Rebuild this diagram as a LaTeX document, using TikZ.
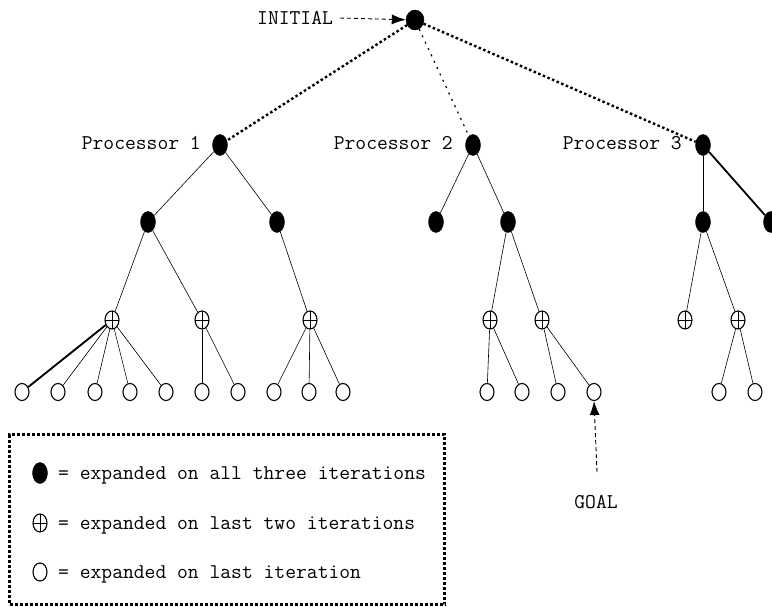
\documentclass[tikz,border=0pt]{standalone}
\usepackage{fontspec}
\usetikzlibrary{shapes.geometric,arrows.meta}
\begin{document}
\begin{tikzpicture}[x=1pt,y=-1pt,
  full/.style={ellipse, fill=black, draw=black, minimum width=15pt, minimum height=21pt, inner sep=0pt},
  half/.style={ellipse, draw, line width=1.1pt, minimum width=14pt, minimum height=18pt, inner sep=0pt,
    path picture={\draw[line width=0.9pt]
      (path picture bounding box.north) -- (path picture bounding box.south)
      (path picture bounding box.west) -- (path picture bounding box.east);}},
  leaf/.style={ellipse, draw, line width=1.1pt, minimum width=14pt, minimum height=17pt, inner sep=0pt},
  lbl/.style={font=\ttfamily\fontsize{21}{21}\selectfont, inner sep=0pt},
  edge/.style={line width=0.6pt},
  heavy/.style={line width=1.8pt},
  rootlink/.style={line width=2.4pt, dash pattern=on 2.5pt off 2.5pt},
  rootthin/.style={line width=1.2pt, dash pattern=on 2pt off 5pt},
  pointer/.style={line width=0.9pt, dash pattern=on 4pt off 3pt, -{Latex[length=14pt,width=10pt]}},
  legendbox/.style={line width=3pt, dash pattern=on 3pt off 2pt}
]
\useasboundingbox (0,0) rectangle (772,607);

% root and processor roots
\node[full, minimum width=18pt, minimum height=20pt] (root) at (415,20) {};
\node[full] (p1) at (220,145) {};
\node[full] (p2) at (473,145) {};
\node[full] (p3) at (703,145) {};

% second level
\node[full] (a1) at (148,222) {};
\node[full] (a2) at (277,222) {};
\node[full] (b1) at (436,222) {};
\node[full] (b2) at (508,222) {};
\node[full] (c1) at (703,222) {};
\node[full] (c2) at (771,222) {};

% third level
\node[half] (h1) at (112,320) {};
\node[half] (h2) at (202,320) {};
\node[half] (h3) at (310,320) {};
\node[half] (h4) at (490,320) {};
\node[half] (h5) at (542,320) {};
\node[half] (h6) at (685,320) {};
\node[half] (h7) at (738,320) {};

% leaves
\foreach \n/\x in {1/22,2/58,3/95,4/130,5/166,6/202,7/238,8/274,9/309,10/343,
                   11/487,12/522,13/558,14/594,15/719,16/755}
  \node[leaf] (l\n) at (\x,392) {};

% labels
\node[lbl, anchor=base west] (init) at (257,25) {INITIAL};
\coordinate (itail) at (340,18);
\node[lbl, anchor=base east] (t1) at (201,150) {Processor 1};
\node[lbl, anchor=base east] (t2) at (453,150) {Processor 2};
\node[lbl, anchor=base east] (t3) at (682,150) {Processor 3};
\node[lbl, anchor=base] (goal) at (596,508) {GOAL};

% links from the initial node
\draw[rootlink] (root) -- (p1);
\draw[rootthin] (root) -- (p2);
\draw[rootlink] (root) -- (p3);

% processor subtrees
\draw[edge] (p1) -- (a1);
\draw[edge] (p1) -- (a2);
\draw[edge] (p2) -- (b1);
\draw[edge] (p2) -- (b2);
\draw[line width=1pt] (p3) -- (c1);
\draw[heavy] (p3) -- (c2);

\draw[edge] (a1) -- (h1);
\draw[edge] (a1) -- (h2);
\draw[edge] (a2) -- (h3);
\draw[edge] (b2) -- (h4);
\draw[edge] (b2) -- (h5);
\draw[edge] (c1) -- (h6);
\draw[edge] (c1) -- (h7);

\draw[heavy] (h1) -- (l1);
\foreach \k in {2,3,4,5} \draw[edge] (h1) -- (l\k);
\draw[edge] (h2) -- (l6);
\draw[edge] (h2) -- (l7);
\foreach \k in {8,9,10} \draw[edge] (h3) -- (l\k);
\draw[edge] (h4) -- (l11);
\draw[edge] (h4) -- (l12);
\draw[edge] (h5) -- (l13);
\draw[edge] (h5) -- (l14);
\draw[edge] (h7) -- (l15);
\draw[edge] (h7) -- (l16);

% pointers
\draw[pointer] (itail) -- (root);
\coordinate (gtail) at (597,472);
\draw[pointer] (gtail) -- (l14.south);

% legend
\node[draw, legendbox, minimum width=435pt, minimum height=170pt, anchor=north west] (legend) at (8,433) {};
\node[full] (k1) at (40,473) {};
\node[half] (k2) at (40,523) {};
\node[leaf, minimum height=18pt] (k3) at (40,572) {};
\node[lbl, anchor=base west] (d1) at (58,479) {= expanded on all three iterations};
\node[lbl, anchor=base west] (d2) at (58,529) {= expanded on last two iterations};
\node[lbl, anchor=base west] (d3) at (58,578) {= expanded on last iteration};
\end{tikzpicture}
\end{document}
